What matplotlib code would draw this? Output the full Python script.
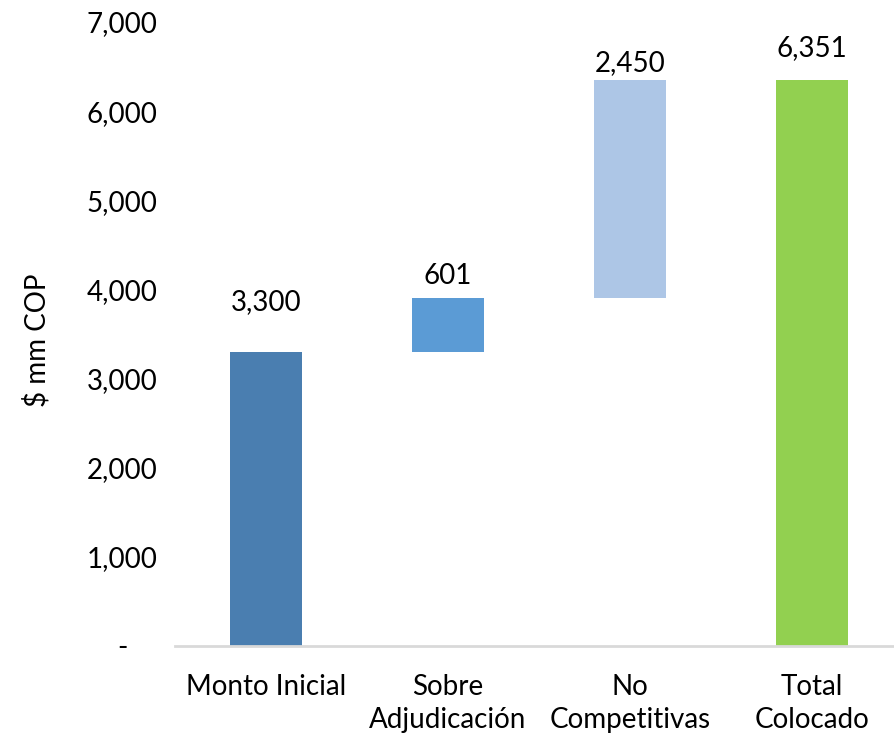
import matplotlib.pyplot as plt
from matplotlib.ticker import FuncFormatter
import numpy as np

plt.rcParams['font.family'] = ['Lato', 'DejaVu Sans']

categorias = ['Monto Inicial', 'Sobre\nAdjudicación', 'No\nCompetitivas', 'Total\nColocado']
valores = [3300, 601, 2450, 6351]
es_total = [False, False, False, True]
colores = ['#4a7eb0', '#5b9bd5', '#adc6e6', '#92d050']
# desplazamiento de cada etiqueta sobre su barra (puntos)
desplaz = [36, 16, 12, 23]

# bases del waterfall: los incrementos se apilan, el total parte de cero
bases = []
acum = 0
for v, t in zip(valores, es_total):
    if t:
        bases.append(0)
    else:
        bases.append(acum)
        acum += v

fig = plt.figure(figsize=(8.95, 7.4), dpi=100)
ax = fig.add_axes([175 / 895, 1 - 646 / 740, 728 / 895, (646 - 22) / 740])

x = np.arange(len(categorias))
ax.bar(x, valores, bottom=bases, width=0.4, color=colores)

for xi, v, b, d in zip(x, valores, bases, desplaz):
    ax.annotate(f'{v:,}', (xi, b + v), xytext=(0, d), textcoords='offset points',
                ha='center', va='center', fontsize=20)

ax.set_xlim(-0.5, len(categorias) - 0.5)
ax.set_ylim(0, 7000)
ax.set_yticks(range(0, 7001, 1000))
ax.yaxis.set_major_formatter(FuncFormatter(lambda v, p: '-' if v == 0 else f'{int(v):,}'))
ax.set_xticks(x)
ax.set_xticklabels(categorias, fontsize=20, linespacing=1.35)
ax.tick_params(axis='y', labelsize=20, length=0, pad=38)
ax.tick_params(axis='x', length=0, pad=20)
for lbl in ax.get_yticklabels():
    lbl.set_horizontalalignment('center')

for s in ['top', 'right', 'left']:
    ax.spines[s].set_visible(False)
ax.spines['bottom'].set_color('#d9d9d9')
ax.spines['bottom'].set_linewidth(2)

ax.set_ylabel('$ mm COP', fontsize=20)
ax.yaxis.set_label_coords(-124 / 728, 0.49)

fig.savefig('out.png', dpi=100)
